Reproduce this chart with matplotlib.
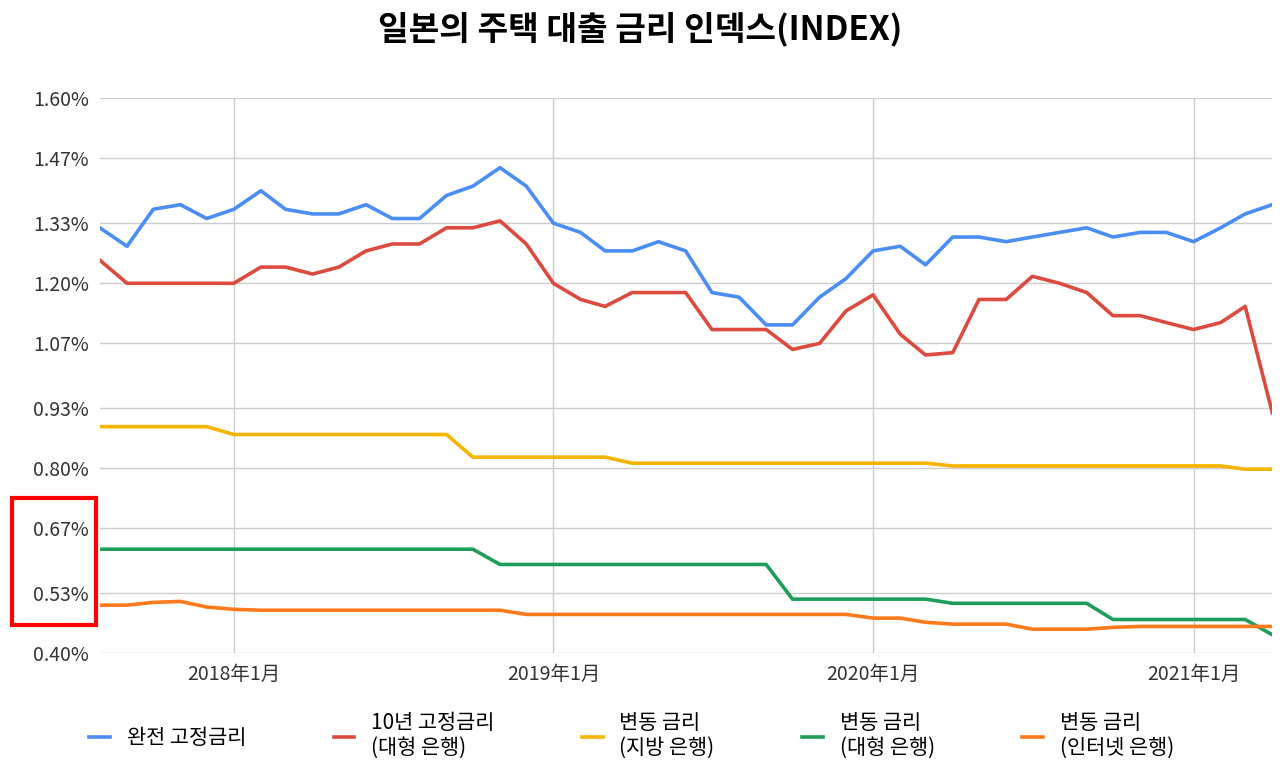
import matplotlib
matplotlib.use("Agg")
import matplotlib.pyplot as plt
import pandas as pd
from matplotlib.patches import Rectangle

plt.rcParams['font.family'] = ['Noto Sans CJK KR', 'DejaVu Sans']

dates = pd.date_range("2017-08-01", "2021-04-01", freq="MS")
fixed_full = [1.32,1.28,1.36,1.37,1.34,1.36,1.40,1.36,1.35,1.35,1.37,1.34,1.34,1.39,1.41,1.45,1.41,1.33,1.31,1.27,
              1.27,1.29,1.27,1.18,1.17,1.11,1.11,1.17,1.21,1.27,1.28,1.24,1.30,1.30,1.29,1.30,1.31,1.32,1.30,1.31,
              1.31,1.29,1.32,1.35,1.37]
fixed_10y = [1.25,1.20,1.20,1.20,1.20,1.20,1.235,1.235,1.22,1.235,1.27,1.285,1.285,1.32,1.32,1.335,1.285,1.20,1.165,1.15,
             1.18,1.18,1.18,1.10,1.10,1.10,1.057,1.07,1.14,1.175,1.09,1.045,1.05,1.165,1.165,1.215,1.20,1.18,1.13,1.13,
             1.115,1.10,1.115,1.15,0.92]
var_regional = [0.89]*5 + [0.873]*9 + [0.824]*6 + [0.811]*12 + [0.805]*11 + [0.798]*2
var_major = [0.625]*15 + [0.592]*11 + [0.517]*6 + [0.508]*6 + [0.473]*6 + [0.44]
var_internet = [0.504,0.504,0.51,0.512,0.50,0.495] + [0.493]*10 + [0.484]*13 + [0.476]*2 + [0.467] + [0.463]*3 + [0.452]*3 + [0.456] + [0.458]*6

series = [
    ("완전 고정금리", fixed_full, "#4a8ef5"),
    ("10년 고정금리\n(대형 은행)", fixed_10y, "#dc4b3e"),
    ("변동 금리\n(지방 은행)", var_regional, "#f5b400"),
    ("변동 금리\n(대형 은행)", var_major, "#1e9e5a"),
    ("변동 금리\n(인터넷 은행)", var_internet, "#ff7a1a"),
]
yticks = [0.40, 0.53, 0.67, 0.80, 0.93, 1.07, 1.20, 1.33, 1.47, 1.60]

fig = plt.figure(figsize=(12.8, 7.74), dpi=100)
ax = fig.add_axes([0.078, 0.156, 0.916, 0.717])
for lab, vals, c in series:
    ax.plot(dates, vals, color=c, lw=2.6, label=lab)
ax.set_xlim(dates[0], dates[-1])
ax.set_ylim(0.40, 1.60)
ax.set_yticks(yticks)
ax.set_yticklabels([f"{v:.2f}%" for v in yticks], fontsize=14, color="#333333")
xt = pd.to_datetime(["2018-01-01", "2019-01-01", "2020-01-01", "2021-01-01"])
ax.set_xticks(xt)
ax.set_xticklabels(["2018年1月", "2019年1月", "2020年1月", "2021年1月"], fontsize=14, color="#333333")
ax.grid(True, color="#cccccc", lw=1)
ax.set_axisbelow(True)
for s in ax.spines.values():
    s.set_visible(False)
ax.tick_params(length=0, pad=8)
fig.suptitle("일본의 주택 대출 금리 인덱스(INDEX)", y=0.985, fontsize=24, fontweight="bold")
fig.legend(loc="lower left", ncol=5, frameon=False, fontsize=15, bbox_to_anchor=(0.055, -0.005),
           handlelength=1.0, columnspacing=4.2, labelspacing=0.2)
fig.patches.append(Rectangle((0.009, 0.193), 0.066, 0.163, transform=fig.transFigure,
                             fill=False, edgecolor="red", lw=3))
fig.savefig("out.png")
